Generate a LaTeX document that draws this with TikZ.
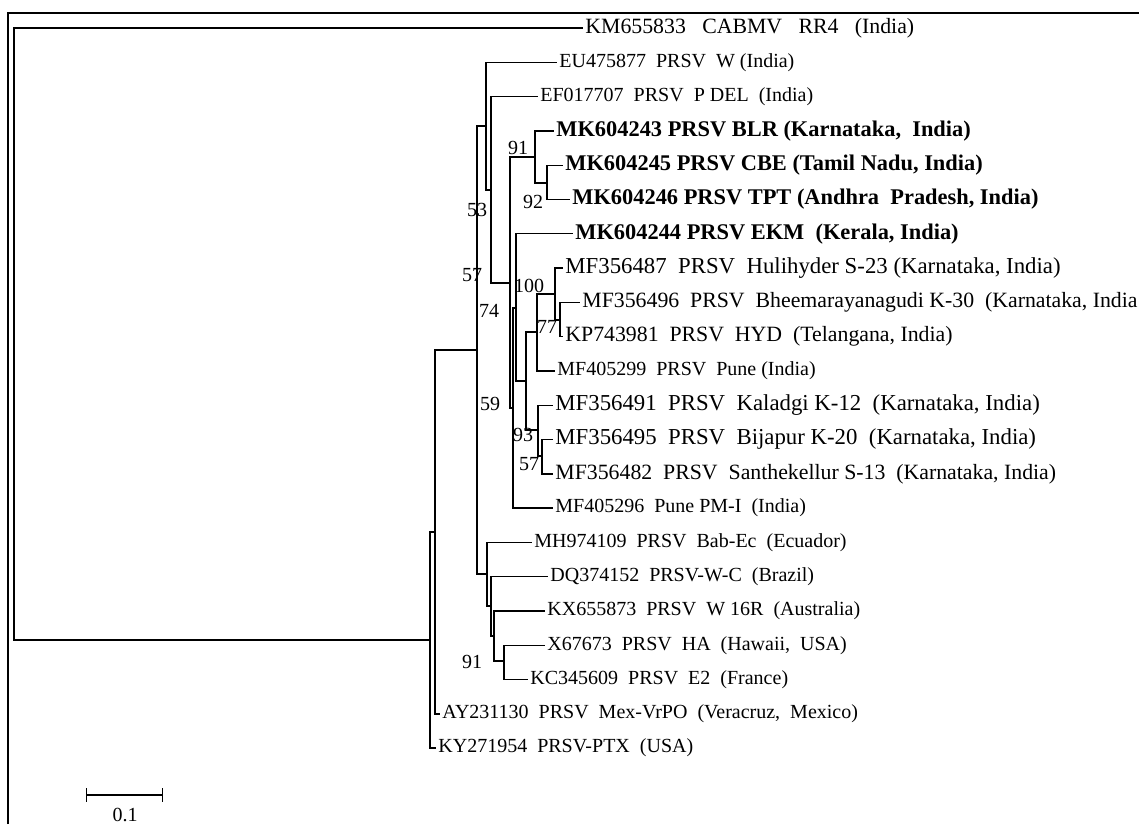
\documentclass[tikz,border=0pt]{standalone}
\usepackage{fontspec}
\setmainfont{Liberation Serif}
\usepackage{tikz}

\tikzset{
  branch/.style={line width=0.7pt},
  leaf/.style={anchor=west, inner sep=1pt, font=\fontsize{10}{12}\selectfont},
  leafw/.style={leaf, font=\fontsize{10.9}{13}\selectfont},
  leafk/.style={leaf, font=\fontsize{11.4}{13}\selectfont},
  leafb/.style={leaf, font=\fontsize{11.2}{13}\selectfont\bfseries},
  boot/.style={inner sep=0pt, font=\fontsize{10}{12}\selectfont}
}

\begin{document}
\begin{tikzpicture}[x=0.5pt, y=-0.5pt]
    \useasboundingbox (0,0) rectangle (1139,824);
    % frame (only top and left show)
    \draw[line width=1.2pt] (8,824) -- (8,13) -- (1139,13);

    % internal nodes
    \coordinate (root) at (14,334);
    \coordinate (r1) at (430,640);
    \coordinate (r2) at (435,532);
    \coordinate (n3) at (477,350);
    \coordinate (na) at (486,126);
    \coordinate (nb) at (491,190);
    \coordinate (nc) at (510,283);
    \coordinate (nd) at (535,157);
    \coordinate (ne) at (547,183);
    \coordinate (nf) at (513,408);
    \coordinate (ng) at (516,308);
    \coordinate (nh) at (526,381);
    \coordinate (ni) at (537,332);
    \coordinate (nl) at (555,294);
    \coordinate (nm) at (560,320);
    \coordinate (nj) at (538,430);
    \coordinate (nk) at (542,456);
    \coordinate (np) at (487,574);
    \coordinate (nq) at (491,606);
    \coordinate (nr) at (494,636);
    \coordinate (ns) at (504,661);

    % leaves
    \node[leafw] (km) at (583,28) {KM655833\ \ \ CABMV\ \ \ RR4\ \ \ (India)};
    \node[leaf] (eu) at (557,62.3) {EU475877\ \ PRSV\ \ W (India)};
    \node[leaf] (ef) at (538,96.6) {EF017707\ \ PRSV\ \ P DEL\ \ (India)};
    \node[leafb] (mk43) at (554,130.9) {MK604243 PRSV BLR (Karnataka,\ \ India)};
    \node[leafb] (mk45) at (563,165.2) {MK604245 PRSV CBE (Tamil Nadu, India)};
    \node[leafb] (mk46) at (570,199.5) {MK604246 PRSV TPT (Andhra\ \ Pradesh, India)};
    \node[leafb] (mk44) at (573,233.7) {MK604244 PRSV EKM\ \ (Kerala, India)};
    \node[leafk] (mf87) at (563,268.0) {MF356487\ \ PRSV\ \ Hulihyder S-23 (Karnataka, India)};
    \node[leafw] (mf96) at (580,302.3) {MF356496\ \ PRSV\ \ Bheemarayanagudi K-30\ \ (Karnataka, India};
    \node[leafw] (kp) at (563,336.6) {KP743981\ \ PRSV\ \ HYD\ \ (Telangana, India)};
    \node[leaf] (mf99) at (555,370.9) {MF405299\ \ PRSV\ \ Pune (India)};
    \node[leafk] (mf91) at (553,405.2) {MF356491\ \ PRSV\ \ Kaladgi K-12\ \ (Karnataka, India)};
    \node[leafk] (mf95) at (553,439.5) {MF356495\ \ PRSV\ \ Bijapur K-20\ \ (Karnataka, India)};
    \node[leafw] (mf82) at (553,473.8) {MF356482\ \ PRSV\ \ Santhekellur S-13\ \ (Karnataka, India)};
    \node[leaf] (mf296) at (553,508.1) {MF405296\ \ Pune PM-I\ \ (India)};
    \node[leaf] (mh) at (532,542.4) {MH974109\ \ PRSV\ \ Bab-Ec\ \ (Ecuador)};
    \node[leaf] (dq) at (548,576.6) {DQ374152\ \ PRSV-W-C\ \ (Brazil)};
    \node[leaf] (kx) at (545,610.9) {KX655873\ \ PRSV\ \ W 16R\ \ (Australia)};
    \node[leaf] (xh) at (545,645.2) {X67673\ \ PRSV\ \ HA\ \ (Hawaii,\ \ USA)};
    \node[leaf] (kc) at (528,679.5) {KC345609\ \ PRSV\ \ E2\ \ (France)};
    \node[leaf] (ay) at (440,713.8) {AY231130\ \ PRSV\ \ Mex-VrPO\ \ (Veracruz,\ \ Mexico)};
    \node[leaf] (ky) at (436,748.1) {KY271954\ \ PRSV-PTX\ \ (USA)};

    % branches
    \draw[branch] (root) |- (km.west);
    \draw[branch] (root) |- (r1);
    \draw[branch] (r1) |- (r2);
    \draw[branch] (r1) |- (ky.west);
    \draw[branch] (r2) |- (n3);
    \draw[branch] (r2) |- (ay.west);
    \draw[branch] (n3) |- (na);
    \draw[branch] (n3) |- (np);
    \draw[branch] (na) |- (eu.west);
    \draw[branch] (na) |- (nb);
    \draw[branch] (nb) |- (ef.west);
    \draw[branch] (nb) |- (nc);
    \draw[branch] (nc) |- (nd);
    \draw[branch] (nc) |- (nf);
    \draw[branch] (nd) |- (mk43.west);
    \draw[branch] (nd) |- (ne);
    \draw[branch] (ne) |- (mk45.west);
    \draw[branch] (ne) |- (mk46.west);
    \draw[branch] (nf) |- (ng);
    \draw[branch] (nf) |- (mf296.west);
    \draw[branch] (ng) |- (mk44.west);
    \draw[branch] (ng) |- (nh);
    \draw[branch] (nh) |- (ni);
    \draw[branch] (nh) |- (nj);
    \draw[branch] (ni) |- (nl);
    \draw[branch] (ni) |- (mf99.west);
    \draw[branch] (nl) |- (mf87.west);
    \draw[branch] (nl) |- (nm);
    \draw[branch] (nm) |- (mf96.west);
    \draw[branch] (nm) |- (kp.west);
    \draw[branch] (nj) |- (mf91.west);
    \draw[branch] (nj) |- (nk);
    \draw[branch] (nk) |- (mf95.west);
    \draw[branch] (nk) |- (mf82.west);
    \draw[branch] (np) |- (mh.west);
    \draw[branch] (np) |- (nq);
    \draw[branch] (nq) |- (dq.west);
    \draw[branch] (nq) |- (nr);
    \draw[branch] (nr) |- (kx.west);
    \draw[branch] (nr) |- (ns);
    \draw[branch] (ns) |- (xh.west);
    \draw[branch] (ns) |- (kc.west);

    % bootstrap values
    \node[boot] (bd) at (518,148) {91};
    \node[boot] (be) at (533,202) {92};
    \node[boot] (bb) at (477,210) {53};
    \node[boot] (bc) at (472,275) {57};
    \node[boot] (bg) at (489,311) {74};
    \node[boot] (bl) at (529,286) {100};
    \node[boot] (bm) at (547,327) {77};
    \node[boot] (bh) at (490,404) {59};
    \node[boot] (bj) at (523,435) {93};
    \node[boot] (bk) at (529,464) {57};
    \node[boot] (bs) at (472,662) {91};

    % scale bar
    \coordinate (sb0) at (86,795);
    \coordinate (sb1) at (163,795);
    \draw[branch, |-|] (sb0) -- (sb1);
    \node[boot] (sblab) at (125,815) {0.1};
\end{tikzpicture}
\end{document}
